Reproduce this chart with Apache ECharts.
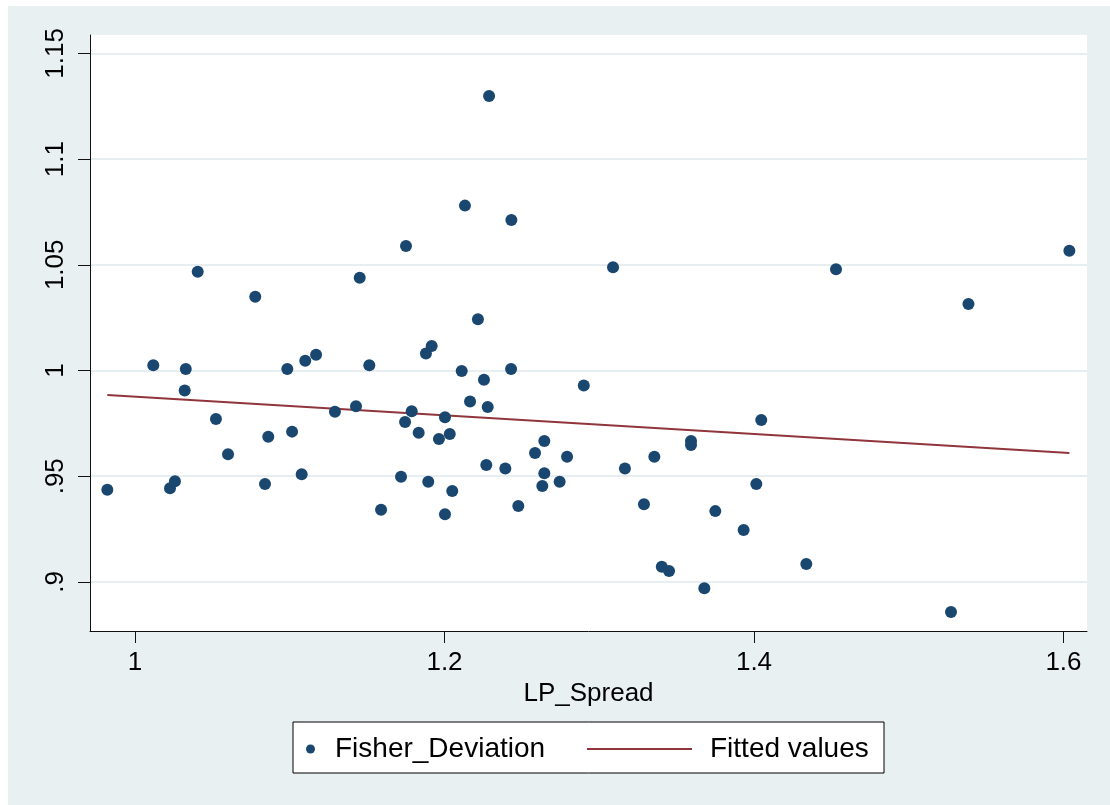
<!DOCTYPE html>
<html>
<head>
<meta charset="utf-8">
<script src="https://cdn.jsdelivr.net/npm/echarts@6/dist/echarts.min.js"></script>
<style>
  html, body { margin: 0; padding: 0; background: #ffffff; }
  #frame { position: absolute; left: 8px; top: 6px; width: 1102px; height: 799px; background: #e9f0f2; }
  #chart { position: absolute; left: 0; top: 0; width: 1110px; height: 805px; }
</style>
</head>
<body>
<div id="frame"></div>
<div id="chart"></div>
<script>
// LP_Spread (x) against Fisher_Deviation (y)
const lpSpread = [
  0.9821, 1.0118, 1.0226, 1.0258, 1.0328, 1.0321, 1.0405, 1.0523, 1.0601, 1.0777,
  1.0840, 1.0861, 1.0984, 1.1015, 1.1077, 1.1100, 1.1170, 1.1292, 1.1428, 1.1452,
  1.1514, 1.1590, 1.1719, 1.1745, 1.1751, 1.1788, 1.1833, 1.1880, 1.1895, 1.1917,
  1.1964, 1.2003, 1.2003, 1.2034, 1.2050, 1.2111, 1.2132, 1.2165, 1.2216, 1.2255,
  1.2270, 1.2279, 1.2288, 1.2393, 1.2430, 1.2432, 1.2477, 1.2585, 1.2632, 1.2645,
  1.2645, 1.2744, 1.2792, 1.2900, 1.3089, 1.3166, 1.3289, 1.3356, 1.3404, 1.3451,
  1.3593, 1.3593, 1.3679, 1.3750, 1.3933, 1.4015, 1.4047, 1.4338, 1.4530, 1.5273,
  1.5386, 1.6038
];
const fisherDeviation = [
  0.9436, 1.0025, 0.9443, 0.9476, 1.0007, 0.9906, 1.0467, 0.9771, 0.9604, 1.0349,
  0.9463, 0.9687, 1.0007, 0.9711, 0.9509, 1.0046, 1.0075, 0.9805, 0.9831, 1.0439,
  1.0025, 0.9342, 0.9498, 0.9756, 1.0589, 0.9807, 0.9706, 1.0081, 0.9474, 1.0116,
  0.9676, 0.9779, 0.9320, 0.9700, 0.9430, 0.9998, 1.0780, 0.9854, 1.0242, 0.9956,
  0.9553, 0.9827, 1.1298, 0.9537, 1.0007, 1.0712, 0.9359, 0.9610, 0.9454, 0.9667,
  0.9514, 0.9474, 0.9592, 0.9929, 1.0488, 0.9537, 0.9368, 0.9592, 0.9072, 0.9052,
  0.9667, 0.9648, 0.8970, 0.9335, 0.9246, 0.9463, 0.9766, 0.9085, 1.0479, 0.8858,
  1.0315, 1.0567
];

// Fitted values line end points
const fittedX = [0.9821, 1.6038];
const fittedY = [0.9884, 0.9610];

// Axis ticks and their labels
const xTicks = [1, 1.2, 1.4, 1.6];
const xTickLabels = ['1', '1.2', '1.4', '1.6'];
const yTicks = [0.9, 0.95, 1, 1.05, 1.1, 1.15];
const yTickLabels = ['.9', '.95', '1', '1.05', '1.1', '1.15'];

const scatterData = lpSpread.map((x, i) => [x, fisherDeviation[i]]);
const fittedData = fittedX.map((x, i) => [x, fittedY[i]]);

function labelFor(ticks, labels) {
  return function (v) {
    const i = ticks.findIndex(t => Math.abs(t - v) < 1e-9);
    return i >= 0 ? labels[i] : '';
  };
}

const FONT = '"Liberation Sans", Arial, sans-serif';
const NAVY = '#1a476f';
const MAROON = '#90353b';

const chart = echarts.init(document.getElementById('chart'), null, { renderer: 'canvas' });

chart.setOption({
  animation: false,
  backgroundColor: 'transparent',
  textStyle: { fontFamily: FONT },
  grid: {
    left: 90, right: 23, top: 35, bottom: 174,
    show: true, backgroundColor: '#ffffff', borderWidth: 0
  },
  xAxis: {
    type: 'value',
    min: 0.9709, max: 1.6152,
    name: 'LP_Spread',
    nameLocation: 'middle',
    nameGap: 46,
    nameTextStyle: { fontSize: 26, color: '#000', fontFamily: FONT },
    axisLine: { show: true, onZero: false, lineStyle: { color: '#111', width: 1 } },
    axisTick: { show: true, length: 12, customValues: xTicks, lineStyle: { color: '#111', width: 1 } },
    axisLabel: {
      customValues: xTicks, formatter: labelFor(xTicks, xTickLabels),
      fontSize: 26, color: '#000', margin: 19, fontFamily: FONT
    },
    splitLine: { show: false }
  },
  yAxis: {
    type: 'value',
    min: 0.8768, max: 1.1587,
    axisLine: { show: true, onZero: false, lineStyle: { color: '#111', width: 1 } },
    axisTick: { show: true, length: 12, customValues: yTicks, lineStyle: { color: '#111', width: 1 } },
    axisLabel: {
      customValues: yTicks, formatter: labelFor(yTicks, yTickLabels),
      rotate: 90, fontSize: 26, color: '#000', margin: 21, fontFamily: FONT
    },
    splitLine: { show: true, lineStyle: { color: '#e6eef1', width: 2 } }
  },
  graphic: [{
    type: 'rect', z: 1,
    shape: { x: 293, y: 722, width: 591, height: 51 },
    style: { fill: '#ffffff', stroke: '#000', lineWidth: 1 }
  }],
  legend: [{
    data: [{ name: 'Fisher_Deviation', icon: 'circle' }],
    left: 306, top: 734, padding: 0,
    itemWidth: 9, itemHeight: 9,
    z: 5,
    itemStyle: { color: NAVY, opacity: 1 },
    textStyle: { fontSize: 28, color: '#000', fontFamily: FONT, lineHeight: 30, padding: [0, 0, 0, 15] },
    selectedMode: false
  }, {
    data: [{ name: 'Fitted values', icon: 'rect' }],
    left: 587, top: 734, padding: 0,
    itemWidth: 105, itemHeight: 2,
    z: 5,
    itemStyle: { color: MAROON, borderWidth: 0 },
    textStyle: { fontSize: 28, color: '#000', fontFamily: FONT, lineHeight: 30, padding: [0, 0, 0, 13] },
    selectedMode: false
  }],
  series: [{
    name: 'Fisher_Deviation',
    type: 'scatter',
    data: scatterData,
    symbol: 'circle',
    symbolSize: 12,
    itemStyle: { color: NAVY, opacity: 1 },
    emphasis: { disabled: true },
    z: 3
  }, {
    name: 'Fitted values',
    type: 'line',
    data: fittedData,
    symbol: 'none',
    lineStyle: { color: MAROON, width: 2 },
    itemStyle: { color: MAROON },
    emphasis: { disabled: true },
    z: 2
  }]
});
</script>
</body>
</html>
